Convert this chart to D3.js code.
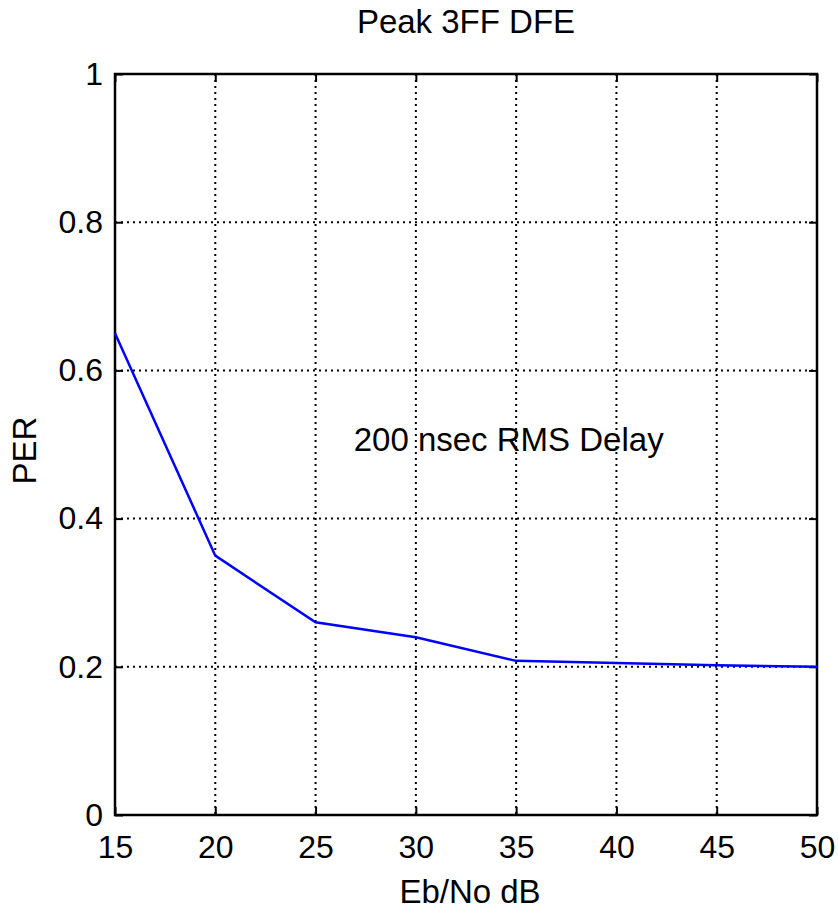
<!DOCTYPE html>
<html><head><meta charset="utf-8">
<script src="https://cdn.jsdelivr.net/npm/d3@7"></script>
<style>body{margin:0;background:#fff}svg{display:block}text{font-family:"Liberation Sans",Arial,sans-serif;fill:#000}</style>
</head><body><svg id="c" width="838" height="911"></svg>
<script>
const ebno = [15, 20, 25, 30, 35, 40, 45, 50];
const per = [0.65, 0.35, 0.26, 0.24, 0.208, 0.205, 0.202, 0.2];
const xTicks = [15, 20, 25, 30, 35, 40, 45, 50];
const yTicks = [0, 0.2, 0.4, 0.6, 0.8, 1];
const yTickLabels = ["0", "0.2", "0.4", "0.6", "0.8", "1"];
const title = "Peak 3FF DFE";
const xLabel = "Eb/No dB";
const yLabel = "PER";
const note = "200 nsec RMS Delay";

const L = 115, R = 817, T = 74, B = 815;
const svg = d3.select("#c");
const x = d3.scaleLinear().domain([15, 50]).range([L, R]);
const y = d3.scaleLinear().domain([0, 1]).range([B, T]);
const fsTick = 32, fs = 33;

// grid
const g = svg.append("g");
g.selectAll(".vx").data(xTicks.slice(1, -1)).join("line")
  .attr("x1", d => x(d)).attr("x2", d => x(d)).attr("y1", T).attr("y2", B)
  .attr("stroke", "#000").attr("stroke-width", 2).attr("stroke-dasharray", "2,4");
g.selectAll(".hy").data(yTicks.slice(1, -1)).join("line")
  .attr("y1", d => y(d)).attr("y2", d => y(d)).attr("x1", L).attr("x2", R)
  .attr("stroke", "#000").attr("stroke-width", 2).attr("stroke-dasharray", "2,4");

// axes
const xAxis = d3.axisBottom(x).tickValues(xTicks).tickSize(-8).tickPadding(20).tickFormat(d3.format("d"));
const yAxis = d3.axisLeft(y).tickValues(yTicks).tickSize(-8).tickPadding(12).tickFormat((d, i) => yTickLabels[i]);
const xa = svg.append("g").attr("transform", `translate(0,${B})`).call(xAxis);
const ya = svg.append("g").attr("transform", `translate(${L},0)`).call(yAxis);
const xt = svg.append("g").attr("transform", `translate(0,${T})`).call(d3.axisTop(x).tickValues(xTicks).tickSize(-8).tickFormat(""));
const yr = svg.append("g").attr("transform", `translate(${R},0)`).call(d3.axisRight(y).tickValues(yTicks).tickSize(-8).tickFormat(""));
[xa, ya, xt, yr].forEach(a => {
  a.select(".domain").remove();
  a.selectAll(".tick line").attr("stroke", "#000").attr("stroke-width", 2);
  a.selectAll("text").style("font-size", fsTick + "px").style("font-family", '"Liberation Sans",Arial,sans-serif').attr("fill", "#000");
});
svg.append("rect").attr("x", L).attr("y", T).attr("width", R - L).attr("height", B - T)
  .attr("fill", "none").attr("stroke", "#000").attr("stroke-width", 2.5);

// line
svg.append("path").datum(ebno.map((d, i) => [d, per[i]]))
  .attr("d", d3.line().x(d => x(d[0])).y(d => y(d[1])))
  .attr("fill", "none").attr("stroke", "#0000ff").attr("stroke-width", 2.5);

// texts
svg.append("text").attr("x", (L + R) / 2).attr("y", 33).attr("text-anchor", "middle").style("font-size", fs + "px").text(title);
svg.append("text").attr("x", 470).attr("y", 903).attr("text-anchor", "middle").style("font-size", fs + "px").text(xLabel);
svg.append("text").attr("transform", `translate(36,${(T + B) / 2 + 6}) rotate(-90)`).attr("text-anchor", "middle").style("font-size", fs + "px").text(yLabel);
svg.append("text").attr("x", x(26.9)).attr("y", y(0.491)).style("font-size", fs + "px").text(note);
</script></body></html>
